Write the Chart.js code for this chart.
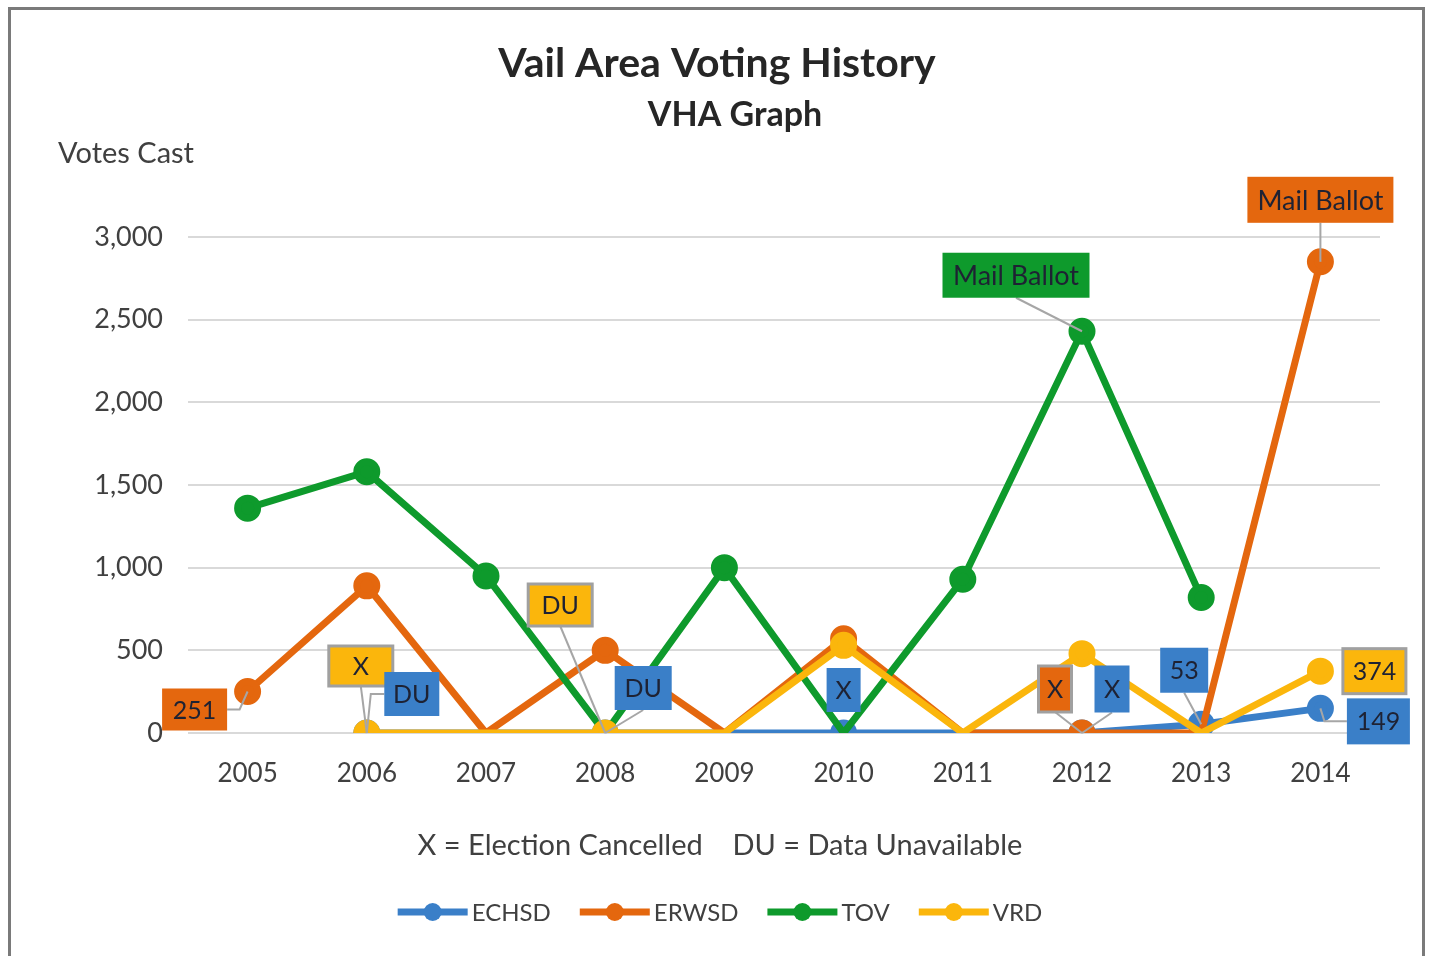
<!DOCTYPE html>
<html>
<head>
<meta charset="utf-8">
<title>Vail Area Voting History</title>
<script src="https://cdn.jsdelivr.net/npm/chart.js@4.4.1/dist/chart.umd.min.js"></script>
<style>
  html, body { margin: 0; padding: 0; background: #fff; }
  #wrap { position: relative; width: 1429px; height: 956px; }
</style>
</head>
<body>
<div id="wrap"><canvas id="mycanvas"></canvas></div>
<script>
// data
var years = ['2005', '2006', '2007', '2008', '2009', '2010', '2011', '2012', '2013', '2014'];
var echsd = [null, 0, 0, 0, 0, 0, 0, 0, 53, 149];
var erwsd = [251, 890, 0, 500, 0, 570, 0, 0, 0, 2850];
var tov   = [1360, 1580, 950, 0, 1000, 0, 930, 2430, 820, null];
var vrd   = [null, 0, 0, 0, 0, 530, 0, 480, 0, 374];
var yTicks = [0, 500, 1000, 1500, 2000, 2500, 3000];

var seriesNames = ['ECHSD', 'ERWSD', 'TOV', 'VRD'];
var colors = ['#3a7fc8', '#e4670e', '#0e9a2c', '#fbb60c'];

// which points carry a marker
var marks = [
	[1, 3, 5, 7, 8, 9],
	[0, 1, 3, 5, 7, 9],
	[0, 1, 2, 4, 6, 7, 8],
	[1, 3, 5, 7, 9]
];

// callout boxes: series, point, text (null = value), box offset from point, size, leader
var notes = [
	{ds: 1, i: 0, text: null, dx: -53, dy: 18, w: 65, h: 42, lead: 'right'},
	{ds: 3, i: 1, text: 'X', dx: -6, dy: -67, w: 64, h: 40, lead: 'bottom', edge: true},
	{ds: 0, i: 1, text: 'DU', dx: 45, dy: -39, w: 55, h: 44, lead: 'left'},
	{ds: 3, i: 3, text: 'DU', dx: -45, dy: -128, w: 64, h: 42, lead: 'bottom', edge: true},
	{ds: 0, i: 3, text: 'DU', dx: 38, dy: -45, w: 57, h: 44, lead: 'bottom'},
	{ds: 0, i: 5, text: 'X', dx: 0, dy: -43, w: 34, h: 44, lead: null},
	{ds: 1, i: 7, text: 'X', dx: -27, dy: -44, w: 33, h: 46, lead: 'bottom', edge: true},
	{ds: 0, i: 7, text: 'X', dx: 30, dy: -44, w: 35, h: 47, lead: 'bottom'},
	{ds: 0, i: 8, text: null, dx: -17, dy: -54, w: 48, h: 45, lead: 'bottom'},
	{ds: 3, i: 9, text: null, dx: 54, dy: 0, w: 63, h: 45, lead: null, edge: true},
	{ds: 0, i: 9, text: null, dx: 58, dy: 13, w: 63, h: 46, lead: 'left'},
	{ds: 2, i: 7, text: 'Mail Ballot', dx: -66, dy: -56, w: 147, h: 45, lead: 'bottom'},
	{ds: 1, i: 9, text: 'Mail Ballot', dx: 0, dy: -62, w: 146, h: 46, lead: 'bottom'}
];

var FONT = 'Lato, "Open Sans", sans-serif';

function radii(list) {
	var r = [];
	for (var k = 0; k < years.length; k++) r.push(list.indexOf(k) >= 0 ? 10 : 0);
	return r;
}

var allData = [echsd, erwsd, tov, vrd];
var datasets = [];
for (var s = 0; s < 4; s++) {
	datasets.push({
		label: seriesNames[s],
		data: allData[s],
		borderColor: colors[s],
		backgroundColor: colors[s],
		pointBackgroundColor: colors[s],
		pointBorderColor: colors[s],
		pointRadius: radii(marks[s]),
		pointHoverRadius: radii(marks[s]),
		borderWidth: 7,
		tension: 0,
		spanGaps: false,
		order: 4 - s
	});
}

var extras = {
	id: 'extras',
	beforeDraw: function(chart) {
		var ctx = chart.ctx;
		ctx.save();
		ctx.fillStyle = '#fff';
		ctx.fillRect(0, 0, chart.width, chart.height);
		ctx.strokeStyle = '#7a7a7a';
		ctx.lineWidth = 3;
		ctx.strokeRect(9.5, 8.5, 1414, 960);
		ctx.restore();
	},
	afterDatasetsDraw: function(chart) {
		var ctx = chart.ctx;
		ctx.save();
		notes.forEach(function(n) {
			var pt = chart.getDatasetMeta(n.ds).data[n.i];
			var px = pt.x, py = pt.y;
			var cx = px + n.dx, cy = py + n.dy;
			ctx.strokeStyle = '#a6a6a6';
			ctx.lineWidth = 2;
			if (n.lead) {
				ctx.beginPath();
				if (n.lead === 'bottom') {
					ctx.moveTo(cx, cy + n.h / 2);
					ctx.lineTo(px, py);
				} else if (n.lead === 'left') {
					ctx.moveTo(cx - n.w / 2, cy);
					ctx.lineTo(px + 4, cy);
					ctx.lineTo(px, py);
				} else {
					ctx.moveTo(cx + n.w / 2, cy);
					ctx.lineTo(px - 8, cy);
					ctx.lineTo(px, py);
				}
				ctx.stroke();
			}
			ctx.fillStyle = colors[n.ds];
			ctx.fillRect(cx - n.w / 2, cy - n.h / 2, n.w, n.h);
			if (n.edge) {
				ctx.strokeStyle = '#a0a0a0';
				ctx.lineWidth = 3;
				ctx.strokeRect(cx - n.w / 2, cy - n.h / 2, n.w, n.h);
			}
			var t = n.text !== null ? n.text : String(allData[n.ds][n.i]);
			ctx.fillStyle = '#1e2233';
			ctx.font = (t.length > 4 ? '27px ' : '25px ') + FONT;
			ctx.textAlign = 'center';
			ctx.textBaseline = 'middle';
			ctx.fillText(t, cx, cy + 1);
		});
		ctx.restore();
	},
	afterDraw: function(chart) {
		var ctx = chart.ctx;
		ctx.save();
		ctx.textBaseline = 'middle';
		ctx.textAlign = 'center';
		ctx.fillStyle = '#262626';
		ctx.font = 'bold 41px ' + FONT;
		ctx.fillText('Vail Area Voting History', 717, 64);
		ctx.font = 'bold 34px ' + FONT;
		ctx.fillText('VHA Graph', 735, 115);

		ctx.fillStyle = '#404040';
		ctx.textAlign = 'left';
		ctx.font = '29px ' + FONT;
		ctx.fillText('Votes Cast', 58, 154);

		ctx.textAlign = 'center';
		ctx.fillText('X = Election Cancelled    DU = Data Unavailable', 720, 846);

		// legend
		ctx.font = '24px ' + FONT;
		var lineLen = 70, gapT = 4, gapI = 29;
		var total = 0;
		seriesNames.forEach(function(nm, k) {
			total += lineLen + gapT + ctx.measureText(nm).width + (k < 3 ? gapI : 0);
		});
		var x = 720 - total / 2, y = 912;
		ctx.textAlign = 'left';
		seriesNames.forEach(function(nm, k) {
			ctx.strokeStyle = colors[k];
			ctx.lineWidth = 7;
			ctx.beginPath();
			ctx.moveTo(x, y);
			ctx.lineTo(x + lineLen, y);
			ctx.stroke();
			ctx.fillStyle = colors[k];
			ctx.beginPath();
			ctx.arc(x + lineLen / 2, y, 9, 0, Math.PI * 2);
			ctx.fill();
			ctx.fillStyle = '#404040';
			ctx.fillText(nm, x + lineLen + gapT, y + 1);
			x += lineLen + gapT + ctx.measureText(nm).width + gapI;
		});
		ctx.restore();
	}
};

var ctx = document.getElementById('mycanvas');
var lineChart = new Chart(ctx, {
	type: 'line',
	data: {
		labels: years,
		datasets: datasets
	},
	options: {
		responsive: true,
		maintainAspectRatio: false,
		animation: false,
		devicePixelRatio: 1,
		layout: {
			padding: {left: 0, right: 49, top: 237, bottom: 163}
		},
		plugins: {
			legend: {display: false},
			title: {display: false},
			tooltip: {enabled: false}
		},
		scales: {
			x: {
				offset: true,
				grid: {display: false, drawTicks: false, offset: true},
				border: {display: false},
				ticks: {
					color: '#404040',
					padding: 25,
					maxRotation: 0,
					font: {family: FONT, size: 26}
				},
				afterFit: function(s) { s.height = 60; }
			},
			y: {
				min: 0,
				max: 3000,
				grid: {color: '#d9d9d9', lineWidth: 2, drawTicks: false},
				border: {display: false},
				afterBuildTicks: function(s) {
					s.ticks = yTicks.map(function(v) { return {value: v}; });
				},
				ticks: {
					color: '#404040',
					padding: 25,
					font: {family: FONT, size: 27},
					callback: function(v) { return Number(v).toLocaleString('en-US'); }
				},
				afterFit: function(s) { s.width = 188; }
			}
		}
	},
	plugins: [extras]
});
</script>
</body>
</html>
